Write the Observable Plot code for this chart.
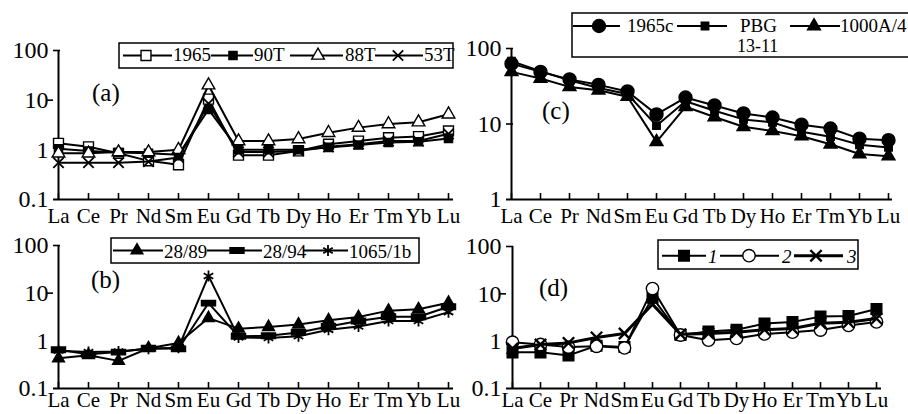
<!DOCTYPE html>
<html><head><meta charset="utf-8">
<script src="https://cdn.jsdelivr.net/npm/d3@7"></script>
<script src="https://cdn.jsdelivr.net/npm/@observablehq/plot@0.6"></script>
<style>
body{margin:0;background:#fff;}
#wrap{position:relative;width:908px;height:414px;overflow:hidden;font-family:"Liberation Serif","Times New Roman",serif;color:#000;}
.panel{position:absolute;}
#over{position:absolute;left:0;top:0;}
</style></head><body><div id="wrap"></div>
<script>
// ---- data ----
const elements = ["La","Ce","Pr","Nd","Sm","Eu","Gd","Tb","Dy","Ho","Er","Tm","Yb","Lu"];

// panel (a)
const a1965 = [1.35, 1.15, 0.85, 0.6, 0.5, 10.5, 0.78, 0.78, 0.95, 1.3, 1.5, 1.75, 1.85, 2.4];
const a90T  = [1.05, 0.95, 0.88, 0.85, 0.8, 6.5, 1.0, 1.0, 1.0, 1.12, 1.25, 1.4, 1.45, 1.7];
const a88T  = [0.85, 0.85, 0.9, 0.9, 1.0, 20, 1.5, 1.5, 1.65, 2.2, 2.8, 3.3, 3.6, 5.2];
const a53T  = [0.55, 0.55, 0.55, 0.58, 0.7, 8.5, 0.9, 0.9, 0.95, 1.15, 1.3, 1.5, 1.5, 2.1];
// panel (b)
const b2889 = [0.43, 0.5, 0.38, 0.7, 0.9, 3.0, 1.8, 1.95, 2.2, 2.7, 3.15, 4.3, 4.6, 6.3];
const b2894 = [0.65, 0.52, 0.58, 0.7, 0.68, 6.2, 1.25, 1.28, 1.5, 2.0, 2.6, 3.2, 3.2, 5.2];
const b1065 = [0.62, 0.58, 0.6, 0.68, 0.72, 23, 1.18, 1.15, 1.25, 1.7, 2.0, 2.6, 2.6, 4.0];
// panel (c)
const c1965c = [63, 49, 39, 33, 27, 13.4, 22.4, 17.6, 13.8, 12.2, 9.8, 8.7, 6.4, 6.1];
const cPBG   = [68, 50, 38, 30, 25, 9.5, 20, 15, 11.5, 10.5, 7.9, 6.8, 5.3, 4.9];
const c1000  = [49, 40, 31, 28, 23, 5.8, 16.9, 12.4, 9.2, 8.1, 6.9, 5.4, 4.0, 3.75];
// panel (d)
const d1 = [0.58, 0.58, 0.5, 0.8, 0.75, 8.3, 1.35, 1.6, 1.75, 2.35, 2.55, 3.3, 3.4, 4.8];
const d2 = [0.95, 0.85, 0.75, 0.78, 0.72, 12.9, 1.35, 1.05, 1.14, 1.42, 1.55, 1.72, 2.15, 2.55];
const d3s = [0.7, 0.85, 0.92, 1.2, 1.45, 6.0, 1.4, 1.45, 1.55, 1.75, 1.85, 2.4, 2.5, 3.0];

// ---- symbols (d3-compatible symbol types, drawn on a context) ----
const SQ3 = Math.sqrt(3);
const SYM = {
  square: {draw(c, size) { const w = Math.sqrt(size) / 2; c.moveTo(-w, -w); c.lineTo(w, -w); c.lineTo(w, w); c.lineTo(-w, w); c.closePath(); }},
  rect: {draw(c, size) { const s = Math.sqrt(size); const w = s * 0.72, h = s * 0.28; c.moveTo(-w, -h); c.lineTo(w, -h); c.lineTo(w, h); c.lineTo(-w, h); c.closePath(); }},
  triangle: {draw(c, size) { const y = -Math.sqrt(size / (SQ3 * 3)); c.moveTo(0, y * 2); c.lineTo(-SQ3 * y, -y); c.lineTo(SQ3 * y, -y); c.closePath(); }},
  times: {draw(c, size) { const r = Math.sqrt(size - Math.min(size / 6, 1.7)) * 0.6189; c.moveTo(-r, -r); c.lineTo(r, r); c.moveTo(-r, r); c.lineTo(r, -r); }},
  asterisk: {draw(c, size) { const r = Math.sqrt(size + Math.min(size / 28, 0.75)) * 0.59436, t = r / 2, u = t * SQ3; c.moveTo(0, r); c.lineTo(0, -r); c.moveTo(-u, -t); c.lineTo(u, t); c.moveTo(-u, t); c.lineTo(u, -t); }},
  circle: {draw(c, size) { const r = Math.sqrt(size / Math.PI); c.moveTo(r, 0); c.arc(0, 0, r, 0, 2 * Math.PI); }}
};
function pathOf(type, size) {
  let s = "";
  const ctx = {
    moveTo(x, y) { s += `M${x},${y}`; },
    lineTo(x, y) { s += `L${x},${y}`; },
    closePath() { s += "Z"; },
    arc(x, y, r) { s += `M${x + r},${y}A${r},${r},0,1,1,${x - r},${y}A${r},${r},0,1,1,${x + r},${y}`; }
  };
  type.draw(ctx, size);
  return s;
}

const panels = [
  {left:0, top:0, width:454, height:235, mt:50, mb:36, ml:53, mr:1, pad:9, domain:[0.1,100], ticks:[0.1,1,10,100], inner:[100], outer:[10],
   lab:{x:92, y:101, t:"(a)"},
   leg:{x:119, y:43, w:334, h:25, ly:55.5, by:61, items:[{x1:123,x2:172,sx:146,tx:173},{x1:211,x2:253,sx:233,tx:254},{x1:290,x2:343,sx:318,tx:345},{x1:375,x2:423,sx:398,tx:424}]},
   series:[
     {name:"1965", values:a1965, symbol:"square", r:5.6, fill:"white"},
     {name:"90T", values:a90T, symbol:"square", r:4.6, fill:"black"},
     {name:"88T", values:a88T, symbol:"triangle", r:4.7, fill:"white"},
     {name:"53T", values:a53T, symbol:"times", r:4.8, fill:"none", sw:1.8}
   ]},
  {left:0, top:210, width:454, height:204, mt:35, mb:26, ml:53, mr:1, pad:4, domain:[0.1,100], ticks:[0.1,1,10,100], inner:[100], outer:[10],
   lab:{x:91, y:288, t:"(b)"},
   leg:{x:111, y:238, w:308, h:25, ly:250.5, by:257.5, items:[{x1:113,x2:163,sx:137,tx:164},{x1:207,x2:262,sx:237,tx:263},{x1:303,x2:348,sx:328,tx:349}]},
   series:[
     {name:"28/89", values:b2889, symbol:"triangle", r:4.4, fill:"black"},
     {name:"28/94", values:b2894, symbol:"rect", r:5.5, fill:"black"},
     {name:"1065/1b", values:b1065, symbol:"asterisk", r:5.2, fill:"none", sw:1.8}
   ]},
  {left:454, top:0, width:454, height:235, mt:48, mb:36, ml:52, mr:16, pad:9, domain:[1,100], ticks:[1,10,100], inner:[10,100], outer:[],
   lab:{x:542, y:119, t:"(c)"},
   leg:{x:572, y:13, w:345, h:44, ly:26, by:32, items:[{x1:573,x2:620,sx:599,tx:627},{x1:677,x2:727,sx:705,tx:740,sub:"13-11",subx:737,suby:52},{x1:790,x2:840,sx:814,tx:840}]},
   series:[
     {name:"1965c", values:c1965c, symbol:"circle", r:6.5, fill:"black"},
     {name:"PBG", values:cPBG, symbol:"square", r:4.2, fill:"black"},
     {name:"1000A/4", values:c1000, symbol:"triangle", r:4.8, fill:"black"}
   ]},
  {left:454, top:210, width:454, height:204, mt:36, mb:26, ml:52, mr:27, pad:4, domain:[0.1,100], ticks:[0.1,1,10,100], inner:[100], outer:[10],
   lab:{x:539, y:296, t:"(d)"},
   leg:{x:658, y:240, w:200, h:29, ly:255.7, by:263, italic:true, items:[{x1:662,x2:706,sx:684,tx:708},{x1:720,x2:779,sx:749,tx:782},{x1:794,x2:843,sx:816,tx:847}]},
   series:[
     {name:"1", values:d1, symbol:"square", r:6.0, fill:"black"},
     {name:"2", values:d2, symbol:"circle", r:6.2, fill:"white"},
     {name:"3", values:d3s, symbol:"times", r:5.2, fill:"none", lw:3, sw:2.4}
   ]}
];

const wrap = document.getElementById("wrap");
const NS = "http://www.w3.org/2000/svg";
function el(tag, attrs, parent) {
  const e = document.createElementNS(NS, tag);
  for (const [k, v] of Object.entries(attrs)) e.setAttribute(k, v);
  if (parent) parent.appendChild(e);
  return e;
}

for (const p of panels) {
  const marks = [
    Plot.axisY({ticks: p.ticks, tickFormat: d => String(d), tickSize: 0, tickPadding: 5, fontSize: 24}),
    Plot.axisY({ticks: p.inner, tickSize: 7, dx: 7, tickFormat: () => "", strokeWidth: 1.6}),
    p.outer.length ? Plot.axisY({ticks: p.outer, tickSize: 6, tickFormat: () => "", strokeWidth: 1.6}) : null,
    Plot.axisX({tickSize: 0, tickPadding: p.pad, fontSize: 21}),
    Plot.axisX({tickSize: 6, dy: -6, tickFormat: () => "", strokeWidth: 1.6}),
    Plot.ruleY([p.domain[0]], {strokeWidth: 2}),
    Plot.ruleX([elements[0]], {y1: p.domain[0], y2: p.domain[1], strokeWidth: 2})
  ];
  for (const s of p.series) {
    const data = elements.map((e, i) => ({e, v: s.values[i]}));
    marks.push(Plot.line(data, {x: "e", y: "v", stroke: "black", strokeWidth: s.lw || 2}));
    marks.push(Plot.dot(data, {x: "e", y: "v", symbol: SYM[s.symbol], r: s.r, fill: s.fill, stroke: "black", strokeWidth: s.sw || 1.4}));
  }
  const chart = Plot.plot({
    width: p.width, height: p.height,
    marginTop: p.mt, marginBottom: p.mb, marginLeft: p.ml, marginRight: p.mr,
    style: {background: "transparent", fontFamily: '"Liberation Serif", "Times New Roman", serif', overflow: "visible", color: "black"},
    x: {type: "point", domain: elements, padding: 0, label: null},
    y: {type: "log", domain: p.domain, label: null},
    marks
  });
  chart.classList.add("panel");
  chart.style.left = p.left + "px";
  chart.style.top = p.top + "px";
  wrap.appendChild(chart);
}

// overlay: panel letters and legends
const over = el("svg", {id: "over", width: 908, height: 414, "font-family": '"Liberation Serif", "Times New Roman", serif'}, wrap);
for (const p of panels) {
  el("text", {x: p.lab.x, y: p.lab.y, "font-size": 25}, over).textContent = p.lab.t;
  const L = p.leg;
  el("rect", {x: L.x, y: L.y, width: L.w, height: L.h, fill: "white", stroke: "black", "stroke-width": 1.5}, over);
  p.series.forEach((s, i) => {
    const it = L.items[i];
    el("line", {x1: it.x1, x2: it.x2, y1: L.ly, y2: L.ly, stroke: "black", "stroke-width": s.lw || 2}, over);
    el("path", {d: pathOf(SYM[s.symbol], Math.PI * s.r * s.r), transform: `translate(${it.sx},${L.ly})`,
      fill: s.fill, stroke: "black", "stroke-width": s.sw || 1.4}, over);
    const t = el("text", {x: it.tx, y: L.by, "font-size": 19}, over);
    if (L.italic) t.setAttribute("font-style", "italic");
    t.textContent = s.name;
    if (it.sub) el("text", {x: it.subx, y: it.suby, "font-size": 18}, over).textContent = it.sub;
  });
}
</script></body></html>
